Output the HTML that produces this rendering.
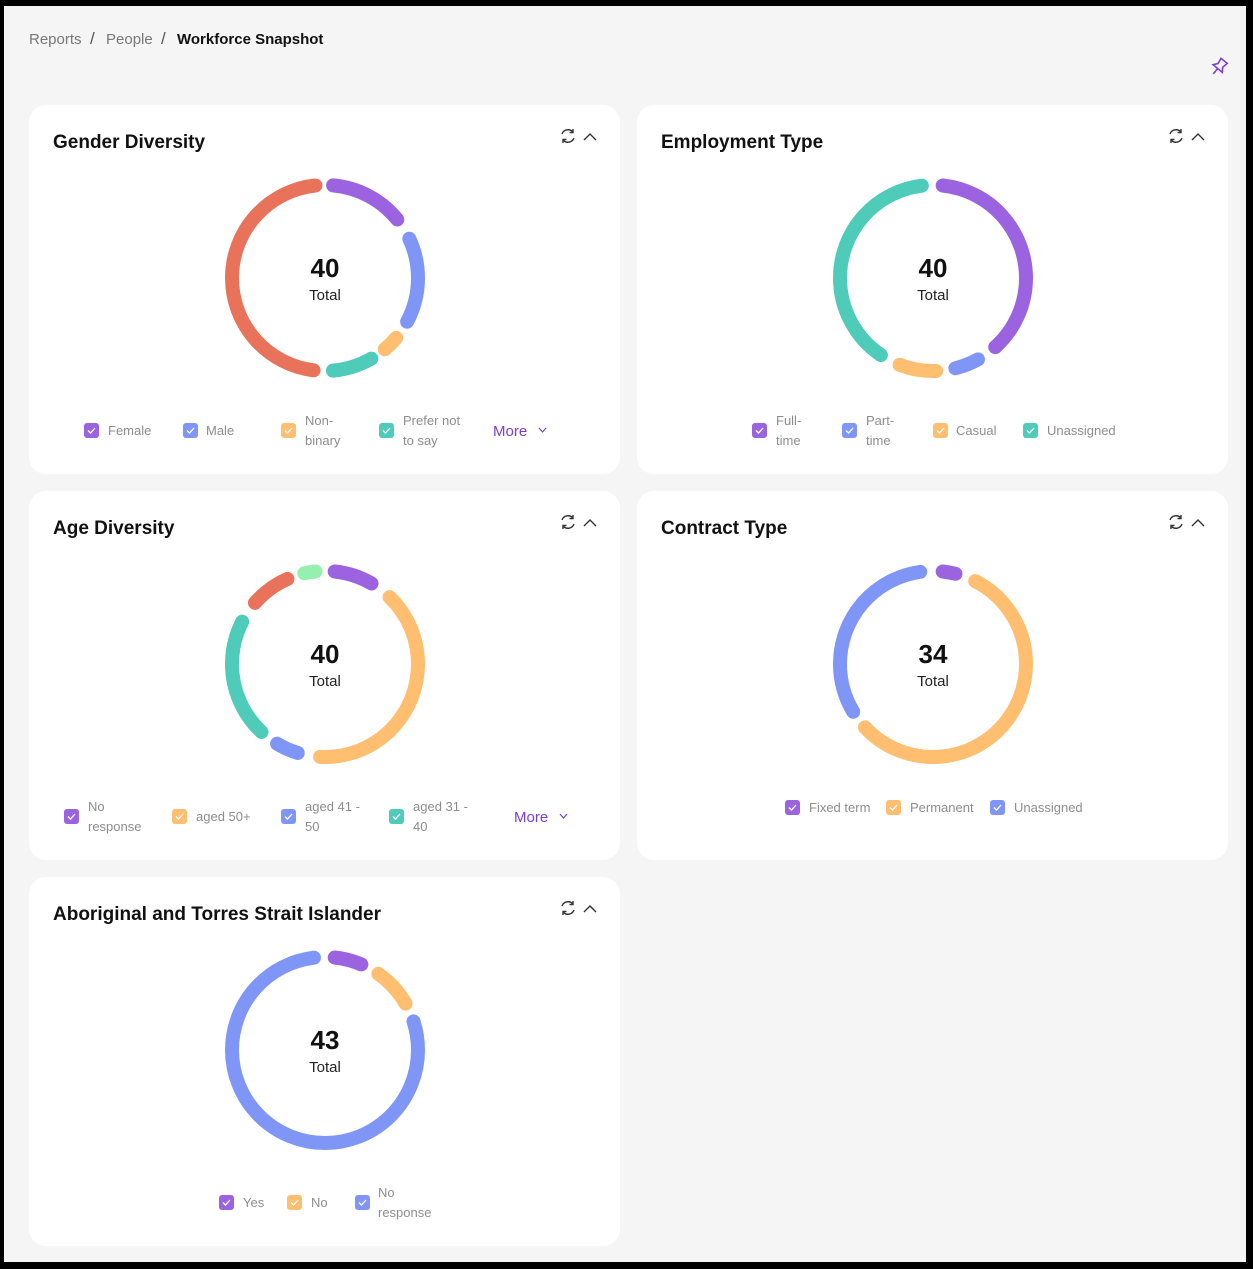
<!DOCTYPE html>
<html><head><meta charset="utf-8"><style>
html,body{margin:0;padding:0;background:#000;}
svg{display:block;font-family:"Liberation Sans",sans-serif;}
.t{font-size:19px;font-weight:bold;fill:#111;}
.lg{font-size:13px;fill:#8d8d8d;}
.num{font-size:26px;font-weight:bold;fill:#111;}
.tot{font-size:15px;fill:#222;}
.more{font-size:15px;fill:#7b3fd0;}
</style></head><body>
<svg width="1253" height="1269" viewBox="0 0 1253 1269" xmlns="http://www.w3.org/2000/svg">
<defs>
<g id="ic">
 <path d="M-6,-2 A6.5,6.5 0 0 1 5,-4 M6,2 A6.5,6.5 0 0 1 -5,4" fill="none" stroke="#333" stroke-width="1.4"/>
 <path d="M5,-7 L5,-3.5 L1.5,-3.5 M-5,7 L-5,3.5 L-1.5,3.5" fill="none" stroke="#333" stroke-width="1.4"/>
 <path d="M16,4 L22,-2 L28,4" fill="none" stroke="#333" stroke-width="1.4"/>
</g>
<path id="ck" d="M-3.5,0 L-1,2.5 L3.5,-2.5" fill="none" stroke="#fff" stroke-width="1.3"/>
</defs>
<rect x="4" y="6" width="1242" height="1256" fill="#f5f5f5"/>
<text x="29" y="44" font-size="15" fill="#777">Reports</text>
<text x="90" y="44" font-size="17" fill="#555">/</text>
<text x="106" y="44" font-size="15" fill="#777">People</text>
<text x="161" y="44" font-size="17" fill="#555">/</text>
<text x="177" y="44" font-size="15" font-weight="bold" fill="#111">Workforce Snapshot</text>
<g transform="translate(1219,67) rotate(40)" fill="none" stroke="#7b3fd0" stroke-width="1.6">
 <path d="M-4,-8 L4,-8 L3,-2 L6,2 L-6,2 L-3,-2 Z M0,2 L0,9"/>
</g>

<rect x="29" y="105" width="591" height="369" rx="17" fill="#fff"/>
<rect x="637" y="105" width="591" height="369" rx="17" fill="#fff"/>
<rect x="29" y="491" width="591" height="369" rx="17" fill="#fff"/>
<rect x="637" y="491" width="591" height="369" rx="17" fill="#fff"/>
<rect x="29" y="877" width="591" height="369" rx="17" fill="#fff"/>

<text x="53" y="148" class="t">Gender Diversity</text>
<text x="661" y="148" class="t">Employment Type</text>
<text x="53" y="534" class="t">Age Diversity</text>
<text x="661" y="534" class="t">Contract Type</text>
<text x="53" y="920" class="t">Aboriginal and Torres Strait Islander</text>
<use href="#ic" x="568" y="136"/><use href="#ic" x="1176" y="136"/>
<use href="#ic" x="568" y="522"/><use href="#ic" x="1176" y="522"/>
<use href="#ic" x="568" y="908"/>

<g fill="none" stroke-width="14" stroke-linecap="round">
<g transform="translate(325,278) rotate(-90)">
 <circle r="93" stroke="#9b63e0" stroke-dasharray="74.7 600" stroke-dashoffset="-8.1"/>
 <circle r="93" stroke="#7f96f7" stroke-dasharray="86 600" stroke-dashoffset="-105.5"/>
 <circle r="93" stroke="#ffbe70" stroke-dasharray="16.2 600" stroke-dashoffset="-211"/>
 <circle r="93" stroke="#4ecbb9" stroke-dasharray="40.6 600" stroke-dashoffset="-243.5"/>
 <circle r="93" stroke="#e8735a" stroke-dasharray="271 600" stroke-dashoffset="-303.5"/>
</g>
<g transform="translate(933,278) rotate(-90)">
 <circle r="93" stroke="#9b63e0" stroke-dasharray="214.2 600" stroke-dashoffset="-9.7"/>
 <circle r="93" stroke="#7f96f7" stroke-dasharray="24.3 600" stroke-dashoffset="-245.1"/>
 <circle r="93" stroke="#ffbe70" stroke-dasharray="37.3 600" stroke-dashoffset="-288.9"/>
 <circle r="93" stroke="#4ecbb9" stroke-dasharray="225.6 600" stroke-dashoffset="-347.3"/>
</g>
<g transform="translate(325,664) rotate(-90)">
 <circle r="93" stroke="#9b63e0" stroke-dasharray="39 600" stroke-dashoffset="-9.7"/>
 <circle r="93" stroke="#ffbe70" stroke-dasharray="225.6 600" stroke-dashoffset="-71.4"/>
 <circle r="93" stroke="#7f96f7" stroke-dasharray="22.7 600" stroke-dashoffset="-319.7"/>
 <circle r="93" stroke="#4ecbb9" stroke-dasharray="120.1 600" stroke-dashoffset="-361.9"/>
 <circle r="93" stroke="#e8735a" stroke-dasharray="40.6 600" stroke-dashoffset="-504.8"/>
 <circle r="93" stroke="#95f0b0" stroke-dasharray="11.4 600" stroke-dashoffset="-563.2"/>
</g>
<g transform="translate(933,664) rotate(-90)">
 <circle r="93" stroke="#9b63e0" stroke-dasharray="13 600" stroke-dashoffset="-9.7"/>
 <circle r="93" stroke="#ffbe70" stroke-dasharray="324.6 600" stroke-dashoffset="-43.8"/>
 <circle r="93" stroke="#7f96f7" stroke-dasharray="183.4 600" stroke-dashoffset="-387.9"/>
</g>
<g transform="translate(325,1050) rotate(-90)">
 <circle r="93" stroke="#9b63e0" stroke-dasharray="27.6 600" stroke-dashoffset="-9.7"/>
 <circle r="93" stroke="#ffbe70" stroke-dasharray="40.6 600" stroke-dashoffset="-56.8"/>
 <circle r="93" stroke="#7f96f7" stroke-dasharray="456.1 600" stroke-dashoffset="-116.9"/>
</g>
</g>

<g text-anchor="middle">
<text x="325" y="277" class="num">40</text><text x="325" y="300" class="tot">Total</text>
<text x="933" y="277" class="num">40</text><text x="933" y="300" class="tot">Total</text>
<text x="325" y="663" class="num">40</text><text x="325" y="686" class="tot">Total</text>
<text x="933" y="663" class="num">34</text><text x="933" y="686" class="tot">Total</text>
<text x="325" y="1049" class="num">43</text><text x="325" y="1072" class="tot">Total</text>
</g>

<!-- legends: box helper inline -->
<g>
<rect x="84" y="423" width="15" height="15" rx="3" fill="#9b63e0"/><use href="#ck" x="91.5" y="430.5"/>
<text x="108" y="435" class="lg">Female</text>
<rect x="183" y="423" width="15" height="15" rx="3" fill="#7f96f7"/><use href="#ck" x="190.5" y="430.5"/>
<text x="206" y="435" class="lg">Male</text>
<rect x="281" y="423" width="15" height="15" rx="3" fill="#ffbe70"/><use href="#ck" x="288.5" y="430.5"/>
<text x="305" y="425" class="lg">Non-</text><text x="305" y="445" class="lg">binary</text>
<rect x="379" y="423" width="15" height="15" rx="3" fill="#4ecbb9"/><use href="#ck" x="386.5" y="430.5"/>
<text x="403" y="425" class="lg">Prefer not</text><text x="403" y="445" class="lg">to say</text>
<text x="493" y="436" class="more">More</text>
<path d="M539,428 L542.5,432 L546,428" fill="none" stroke="#7b3fd0" stroke-width="1.2"/>

<rect x="752" y="423" width="15" height="15" rx="3" fill="#9b63e0"/><use href="#ck" x="759.5" y="430.5"/>
<text x="776" y="425" class="lg">Full-</text><text x="776" y="445" class="lg">time</text>
<rect x="842" y="423" width="15" height="15" rx="3" fill="#7f96f7"/><use href="#ck" x="849.5" y="430.5"/>
<text x="866" y="425" class="lg">Part-</text><text x="866" y="445" class="lg">time</text>
<rect x="933" y="423" width="15" height="15" rx="3" fill="#ffbe70"/><use href="#ck" x="940.5" y="430.5"/>
<text x="956" y="435" class="lg">Casual</text>
<rect x="1023" y="423" width="15" height="15" rx="3" fill="#4ecbb9"/><use href="#ck" x="1030.5" y="430.5"/>
<text x="1047" y="435" class="lg">Unassigned</text>

<rect x="64" y="809" width="15" height="15" rx="3" fill="#9b63e0"/><use href="#ck" x="71.5" y="816.5"/>
<text x="88" y="811" class="lg">No</text><text x="88" y="831" class="lg">response</text>
<rect x="172" y="809" width="15" height="15" rx="3" fill="#ffbe70"/><use href="#ck" x="179.5" y="816.5"/>
<text x="196" y="821" class="lg">aged 50+</text>
<rect x="281" y="809" width="15" height="15" rx="3" fill="#7f96f7"/><use href="#ck" x="288.5" y="816.5"/>
<text x="305" y="811" class="lg">aged 41 -</text><text x="305" y="831" class="lg">50</text>
<rect x="389" y="809" width="15" height="15" rx="3" fill="#4ecbb9"/><use href="#ck" x="396.5" y="816.5"/>
<text x="413" y="811" class="lg">aged 31 -</text><text x="413" y="831" class="lg">40</text>
<text x="514" y="822" class="more">More</text>
<path d="M560,814 L563.5,818 L567,814" fill="none" stroke="#7b3fd0" stroke-width="1.2"/>

<rect x="785" y="800" width="15" height="15" rx="3" fill="#9b63e0"/><use href="#ck" x="792.5" y="807.5"/>
<text x="809" y="812" class="lg">Fixed term</text>
<rect x="886" y="800" width="15" height="15" rx="3" fill="#ffbe70"/><use href="#ck" x="893.5" y="807.5"/>
<text x="910" y="812" class="lg">Permanent</text>
<rect x="990" y="800" width="15" height="15" rx="3" fill="#7f96f7"/><use href="#ck" x="997.5" y="807.5"/>
<text x="1014" y="812" class="lg">Unassigned</text>

<rect x="219" y="1195" width="15" height="15" rx="3" fill="#9b63e0"/><use href="#ck" x="226.5" y="1202.5"/>
<text x="243" y="1207" class="lg">Yes</text>
<rect x="287" y="1195" width="15" height="15" rx="3" fill="#ffbe70"/><use href="#ck" x="294.5" y="1202.5"/>
<text x="311" y="1207" class="lg">No</text>
<rect x="355" y="1195" width="15" height="15" rx="3" fill="#7f96f7"/><use href="#ck" x="362.5" y="1202.5"/>
<text x="378" y="1197" class="lg">No</text><text x="378" y="1217" class="lg">response</text>
</g>
</svg>
</body></html>
